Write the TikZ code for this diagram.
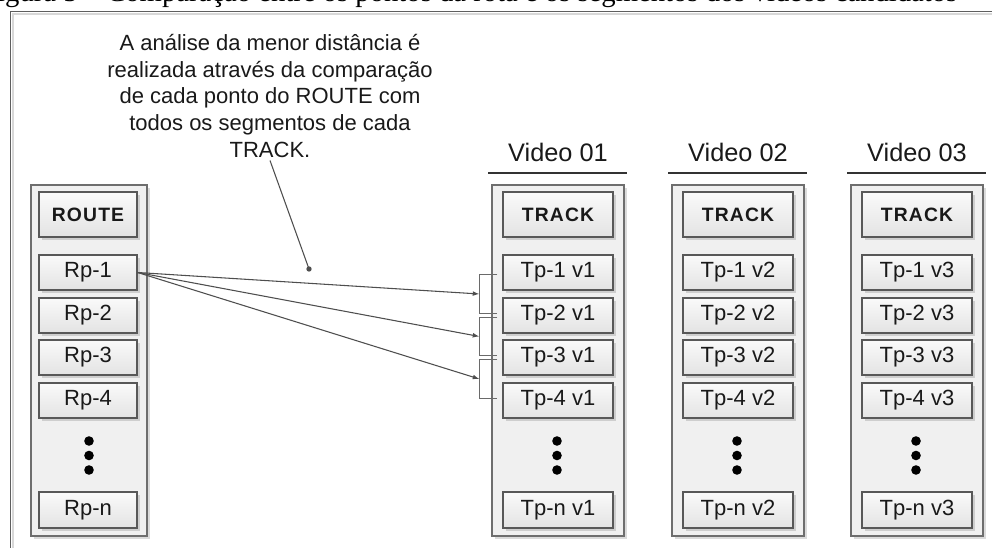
\documentclass[tikz,border=0pt]{standalone}
\usepackage{fontspec}
\setmainfont{Liberation Sans}
\newfontfamily\capfont{Liberation Serif}
\usetikzlibrary{arrows.meta,shadows,calc}

\definecolor{boxedge}{HTML}{585858}
\definecolor{panelfill}{HTML}{F0F0F0}
\definecolor{paneledge}{HTML}{6E6E6E}
\definecolor{wire}{HTML}{4E4E4E}
\definecolor{bracketc}{HTML}{6A6A6A}
\definecolor{frameouter}{HTML}{5E5E5E}
\definecolor{frameinner}{HTML}{D8D8D8}

\begin{document}
\begin{tikzpicture}[x=0.75pt,y=-0.75pt,
  softshadow/.style={drop shadow={shadow xshift=2pt,shadow yshift=-2pt,fill=black,opacity=0.14}},
  panelbox/.style={draw=paneledge,line width=1.05pt,fill=panelfill,inner sep=0pt,
    minimum height=263.25pt,softshadow},
  ptbox/.style={draw=boxedge,line width=0.9pt,top color=white!98!black,bottom color=white!89!black,
    inner sep=0pt,minimum height=26.25pt,text=black!90,
    font=\fontsize{16.5}{18}\selectfont,softshadow},
  headbox/.style={ptbox,minimum height=33.75pt,
    font=\fontsize{14.5}{17}\selectfont\bfseries\addfontfeature{LetterSpace=6}},
  vidlabel/.style={anchor=base,inner sep=0pt,text=black!90,font=\fontsize{19}{22}\selectfont},
  headline/.style={draw=black!80,line width=1pt},
  wireline/.style={draw=wire,line width=0.8pt},
  arrowline/.style={wireline,-{Latex[length=5pt,width=3.6pt]}},
  bracketline/.style={draw=bracketc,line width=0.8pt},
  ellip/.style={fill=black},
]
\clip (0,0) rectangle (992,548);

% outer frame of the figure
\draw[frameinner,line width=1.3pt] (13,14) rectangle (1020,600);
\draw[frameouter,line width=1pt] (10.5,11.5) rectangle (1020,600);

% caption above the frame
\node[anchor=base west,inner sep=0pt,font=\capfont\fontsize{21.5}{24}\selectfont] (caption)
  at (-19,1.2) {Figura 5 – Comparação entre os pontos da rota e os segmentos dos vídeos candidatos};

% explanatory note
\node[align=center,inner sep=2pt,text=black!90,font=\fontsize{16.5}{20}\selectfont] (note) at (270,96)
  {A análise da menor distância é\\realizada através da comparação\\de cada ponto do ROUTE com\\todos os segmentos de cada\\TRACK.};
\coordinate (pin) at (309,269);

% route column
\node[panelbox,minimum width=87pt] (routepanel) at (89,360.5) {};
\node[headbox,minimum width=73.5pt] (route) at (88,214.5) {ROUTE};
\foreach \i/\y in {1/272.5,2/315.5,3/357.5,4/400.5}
  \node[ptbox,minimum width=73.5pt] (rp\i) at (88,\y) {Rp-\i};
\node[ptbox,minimum width=73.5pt,minimum height=27pt] (rpn) at (88,510) {Rp-n};
\foreach \y in {441,455.5,470}
  \fill[ellip] (89,\y) circle (3.6pt);

% track columns, one per video
\foreach \L/\v/\n in {492/1/01,672/2/02,851/3/03}{
  \node[vidlabel] (vid\v) at (\L+66,162) {Video \n};
  \draw[headline] (\L-4,173) -- (\L+135,173);
  \node[panelbox,minimum width=99pt] (panel\v) at (\L+66,360.5) {};
  \node[headbox,minimum width=82.5pt] (track\v) at (\L+66,214.5) {TRACK};
  \foreach \i/\y in {1/272.5,2/315.5,3/357.5,4/400.5}
    \node[ptbox,minimum width=82.5pt] (t\v-\i) at (\L+66,\y) {Tp-\i\ v\v};
  \node[ptbox,minimum width=82.5pt,minimum height=27pt] (t\v-n) at (\L+66,510) {Tp-n v\v};
  \foreach \y in {441,455.5,470}
    \fill[ellip] (\L+65,\y) circle (3.6pt);
}

% brackets grouping consecutive points of the first track (segments)
\foreach \a/\b/\k in {1/2/1,2/3/2,3/4/3}{
  \path ($(t1-\a.west)+(-5,2)$) coordinate (ta\k)
        ($(t1-\b.west)+(-5,-2)$) coordinate (tb\k);
  \draw[bracketline] (ta\k) -- ++(-18,0) coordinate (va\k)
        -- (va\k |- tb\k) coordinate (vb\k) -- (tb\k);
  \coordinate (m\k) at ($(va\k)!0.5!(vb\k)$);
}

% comparisons of the first route point with each segment
\foreach \k in {1,2,3}
  \draw[arrowline] (rp1.east) -- (m\k);

% leader from the note
\draw[wireline] (note.south) -- (pin);
\fill[wire] (pin) circle (2pt);
\end{tikzpicture}
\end{document}
